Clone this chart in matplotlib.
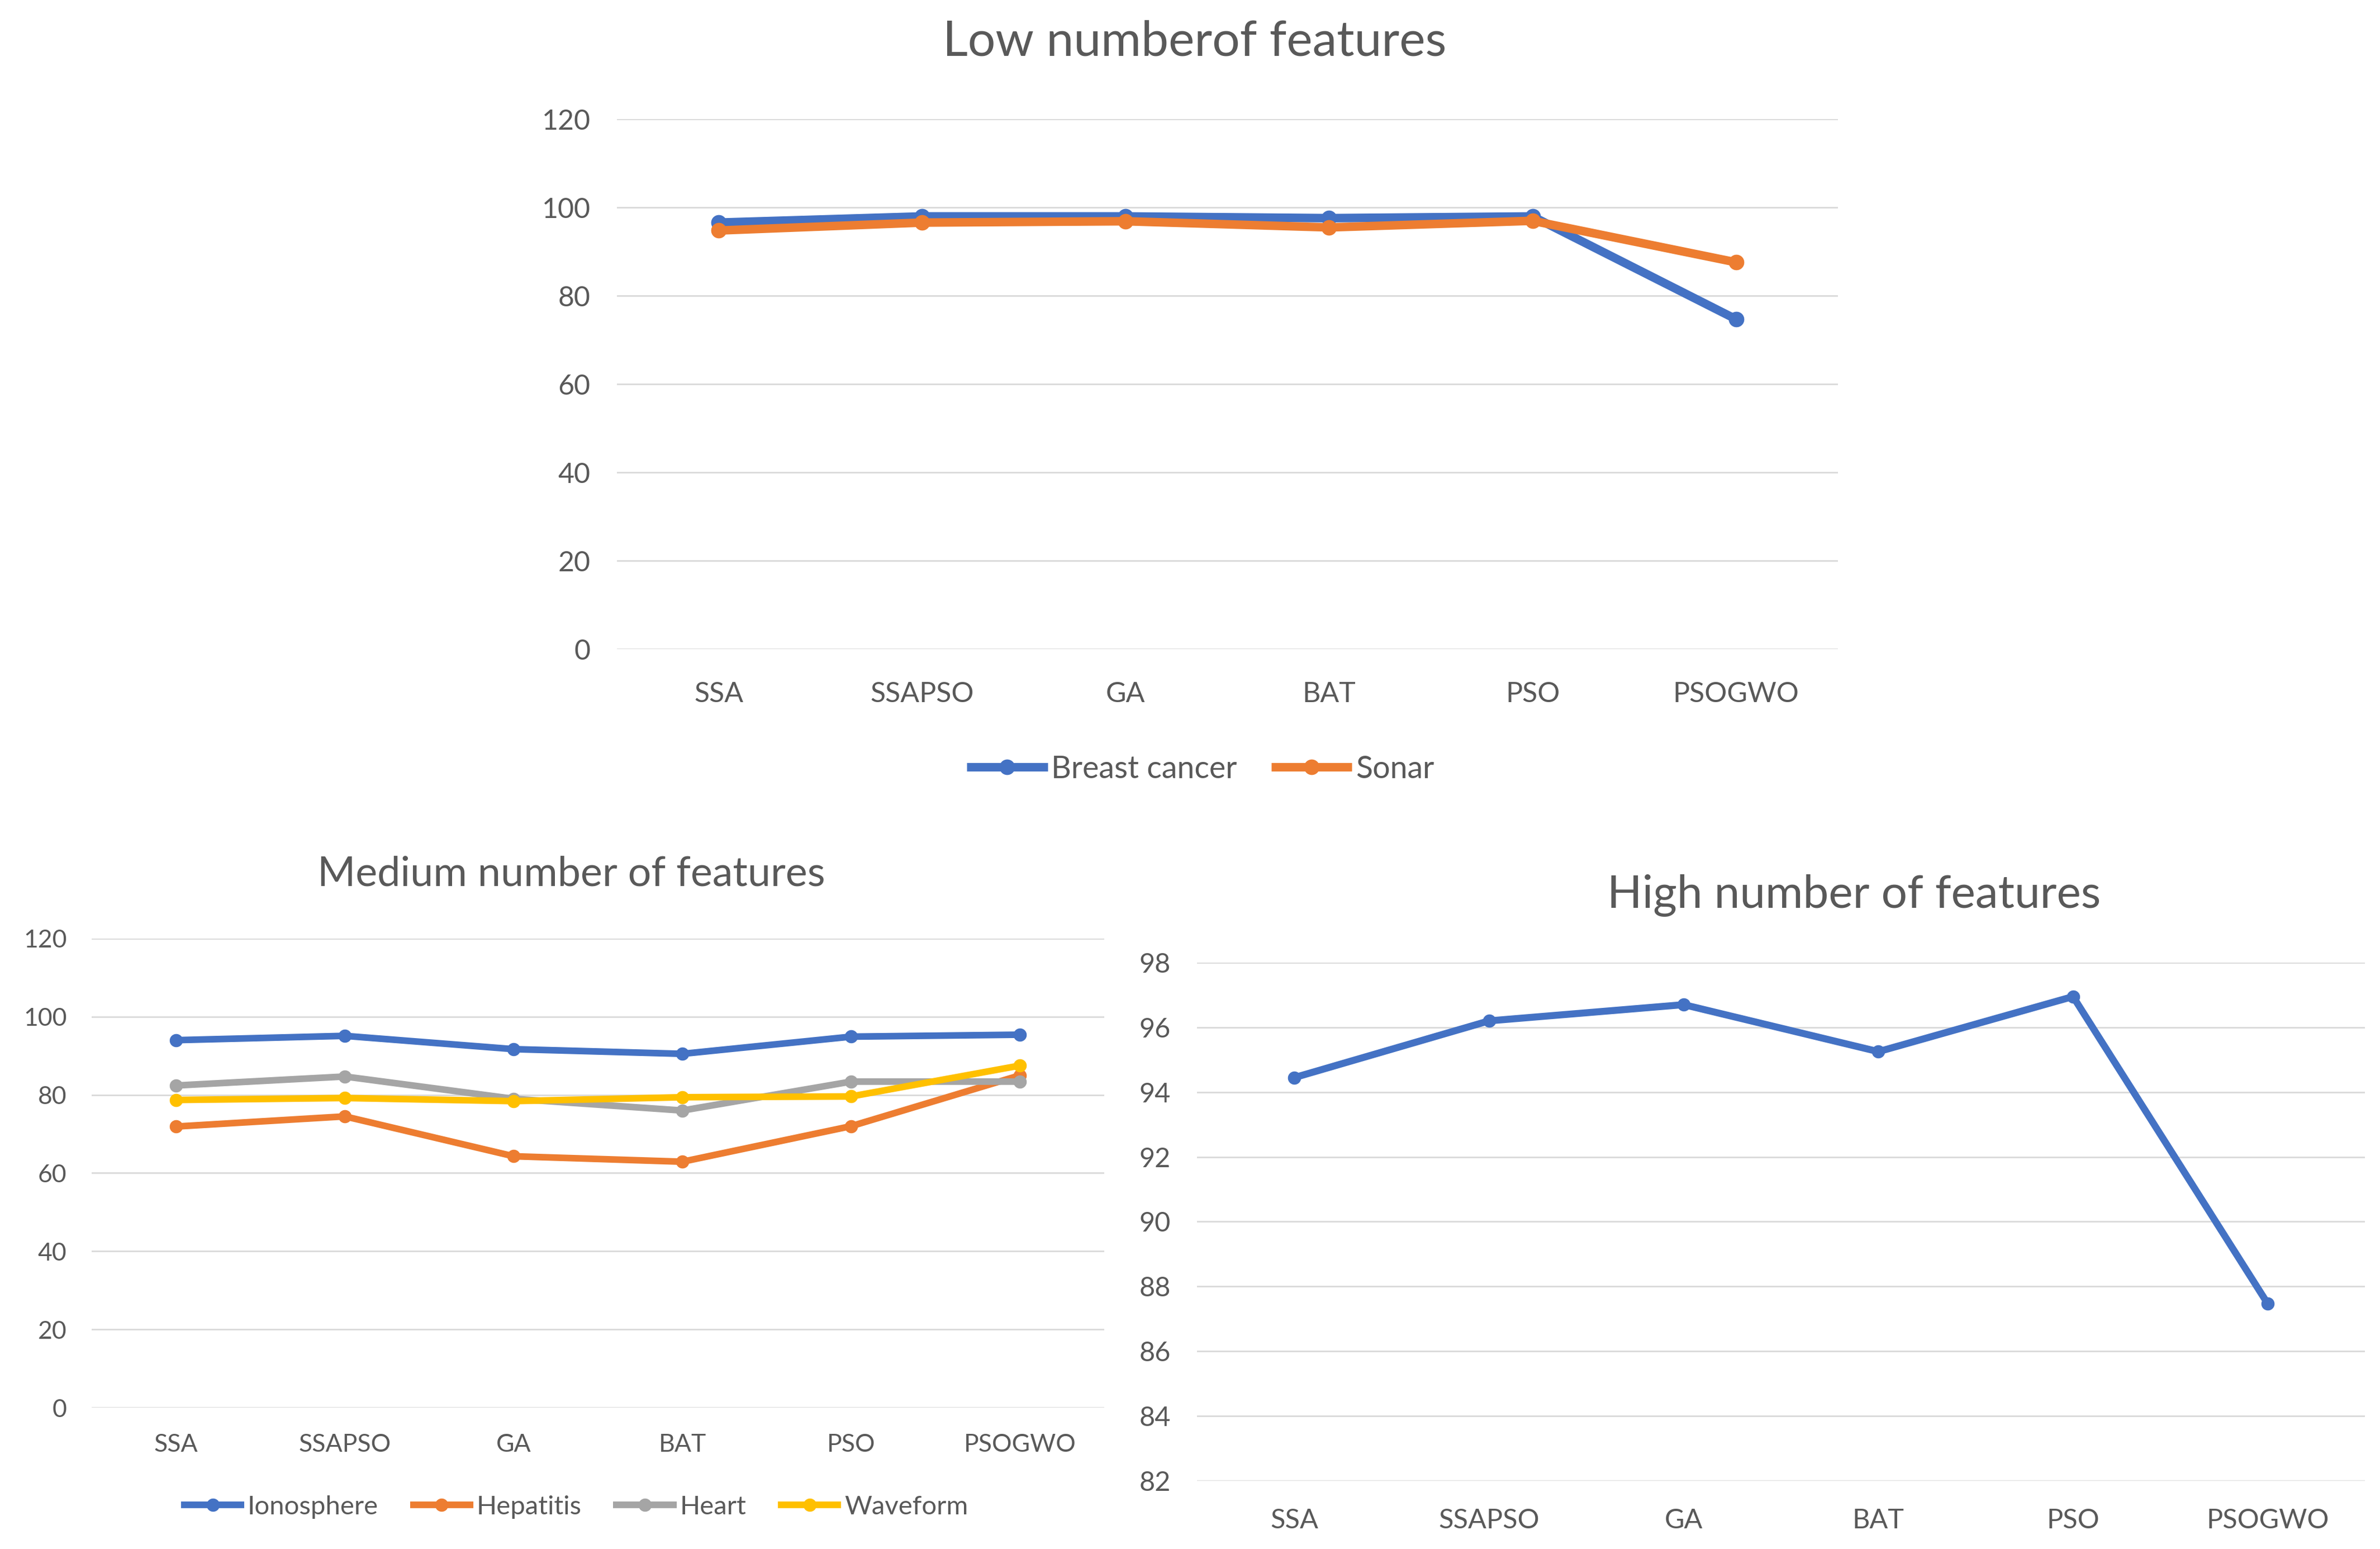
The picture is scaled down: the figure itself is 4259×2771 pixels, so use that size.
import matplotlib
matplotlib.use("Agg")
import matplotlib.pyplot as plt
from matplotlib.lines import Line2D

plt.rcParams['font.family'] = ['Lato', 'DejaVu Sans']

categories = ["SSA", "SSAPSO", "GA", "BAT", "PSO", "PSOGWO"]

# Low number of features
breast_cancer = [96.6, 98.0, 98.0, 97.6, 98.0, 74.7]
sonar = [94.8, 96.6, 96.9, 95.5, 97.0, 87.6]

# Medium number of features
ionosphere = [94.0, 95.1, 91.7, 90.5, 94.9, 95.4]
hepatitis = [71.9, 74.5, 64.3, 62.9, 72.0, 85.0]
heart = [82.4, 84.7, 79.0, 76.0, 83.4, 83.4]
waveform = [78.7, 79.2, 78.4, 79.4, 79.6, 87.5]

# High number of features
high_series = [94.45, 96.2, 96.7, 95.25, 96.95, 87.47]

BLUE = "#4472C4"
ORANGE = "#ED7D31"
GRAY = "#A5A5A5"
YELLOW = "#FFC000"
GRID = "#D9D9D9"
TXT = "#595959"

W, H = 4259, 2771
fig = plt.figure(figsize=(W / 100, H / 100), dpi=100)


def style_axes(ax, ylim, yticks, fs, xpad, ypad):
    ax.set_xlim(-0.5, len(categories) - 0.5)
    ax.set_ylim(*ylim)
    ax.set_yticks(yticks)
    ax.set_xticks(range(len(categories)))
    ax.set_xticklabels(categories)
    for s in ax.spines.values():
        s.set_visible(False)
    ax.grid(axis='y', color=GRID, linewidth=2.0)
    ax.set_axisbelow(True)
    ax.tick_params(axis='x', length=0, labelsize=fs, colors=TXT, pad=xpad)
    ax.tick_params(axis='y', length=0, labelsize=fs, colors=TXT, pad=ypad)


x = list(range(len(categories)))

# ---- Top chart ----
ax1 = fig.add_axes([0.2592, 0.581, 0.513, 0.342])
style_axes(ax1, (0, 120), range(0, 121, 20), 36, 42, 34)
ax1.plot(x, breast_cancer, color=BLUE, lw=11, marker='o', ms=19, label="Breast cancer")
ax1.plot(x, sonar, color=ORANGE, lw=11, marker='o', ms=19, label="Sonar")
fig.text(0.502, 0.973, "Low numberof features", ha='center', va='center', fontsize=63, color=TXT)
h1 = [Line2D([], [], color=BLUE, lw=11, marker='o', ms=19, solid_capstyle='butt'),
      Line2D([], [], color=ORANGE, lw=11, marker='o', ms=19, solid_capstyle='butt')]
fig.legend(h1, ["Breast cancer", "Sonar"], loc='center', bbox_to_anchor=(0.5044, 0.5034),
           ncol=2, frameon=False, fontsize=40, handlelength=2.6, handletextpad=0.12,
           columnspacing=1.1, labelcolor=TXT)

# ---- Medium chart ----
ax2 = fig.add_axes([0.0385, 0.0913, 0.4255, 0.3028])
style_axes(ax2, (0, 120), range(0, 121, 20), 32, 33, 32)
for vals, col, lab in [(ionosphere, BLUE, "Ionosphere"), (hepatitis, ORANGE, "Hepatitis"),
                       (heart, GRAY, "Heart"), (waveform, YELLOW, "Waveform")]:
    ax2.plot(x, vals, color=col, lw=8.5, marker='o', ms=16, label=lab)
fig.text(0.24, 0.4356, "Medium number of features", ha='center', va='center', fontsize=53, color=TXT)
h2 = [Line2D([], [], color=c, lw=8.5, marker='o', ms=16, solid_capstyle='butt')
      for c in (BLUE, ORANGE, GRAY, YELLOW)]
fig.legend(h2, ["Ionosphere", "Hepatitis", "Heart", "Waveform"], loc='center',
           bbox_to_anchor=(0.2414, 0.0272), ncol=4, frameon=False, fontsize=34,
           handlelength=2.4, handletextpad=0.12, columnspacing=1.2, labelcolor=TXT)

# ---- High chart ----
ax3 = fig.add_axes([0.503, 0.044, 0.4907, 0.3346])
style_axes(ax3, (82, 98), range(82, 99, 2), 35, 35, 34)
ax3.plot(x, high_series, color=BLUE, lw=9, marker='o', ms=16)
fig.text(0.779, 0.4219, "High number of features", ha='center', va='center', fontsize=59, color=TXT)

fig.savefig("out.png", dpi=100, facecolor='white')
